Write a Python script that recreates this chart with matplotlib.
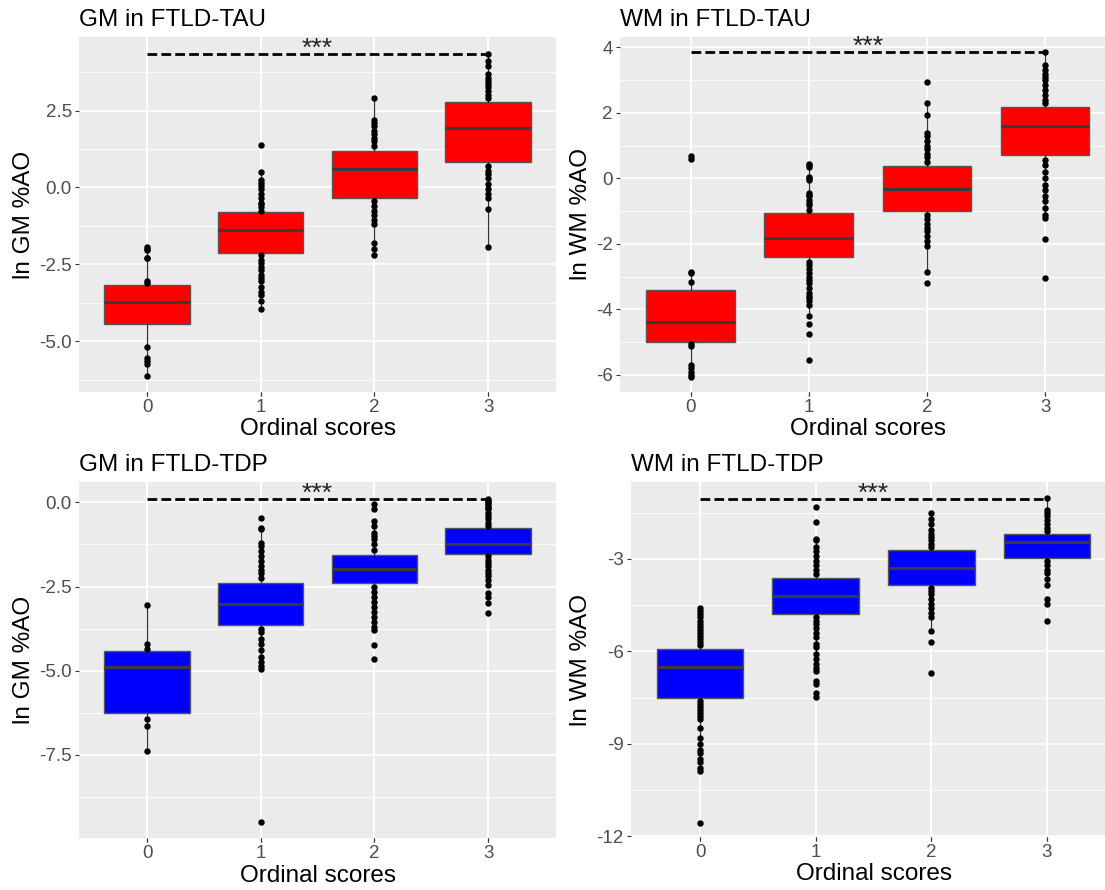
import matplotlib
matplotlib.use("Agg")
import matplotlib.pyplot as plt
from matplotlib.ticker import FixedLocator, FormatStrFormatter

plt.rcParams['font.family'] = ['Liberation Sans', 'DejaVu Sans']
plt.rcParams['axes.unicode_minus'] = False

scores = [0, 1, 2, 3]

# GM in FTLD-TAU
gm_tau_q1 = [-4.43, -2.13, -0.35, 0.83]
gm_tau_med = [-3.74, -1.39, 0.59, 1.92]
gm_tau_q3 = [-3.18, -0.81, 1.17, 2.78]
gm_tau_pts = [
    [-1.95, -2.0, -2.05, -2.3, -2.3, -3.05, -3.1, -5.2, -5.55, -5.65, -5.75, -6.12],
    [1.37, 0.5, 0.25, 0.15, 0.05, -0.05, -0.2, -0.35, -0.5, -0.55, -0.65, -0.75,
     -2.2, -2.35, -2.45, -2.6, -2.7, -2.85, -2.95, -3.05, -3.25, -3.4, -3.5, -3.7, -3.95],
    [2.9, 2.2, 2.1, 2.0, 1.85, 1.75, 1.6, 1.5, 1.35,
     -0.45, -0.6, -0.75, -0.9, -1.05, -1.2, -1.8, -2.0, -2.2],
    [4.35, 4.1, 3.95, 3.7, 3.55, 3.45, 3.35, 3.25, 3.15, 3.0, 2.9,
     0.7, 0.55, 0.45, 0.3, 0.1, -0.05, -0.2, -0.35, -0.7, -1.95],
]
gm_tau_sig = 4.35

# WM in FTLD-TAU
wm_tau_q1 = [-5.0, -2.41, -0.98, 0.71]
wm_tau_med = [-4.38, -1.81, -0.31, 1.59]
wm_tau_q3 = [-3.41, -1.06, 0.39, 2.17]
wm_tau_pts = [
    [0.7, 0.6, -2.85, -2.9, -3.15, -5.05, -5.1, -5.7, -5.8, -5.9, -6.0, -6.05],
    [0.45, 0.4, 0.35, 0.05, 0.0, -0.05, -0.45, -0.5, -0.55, -0.65, -0.75, -0.8, -0.95,
     -2.55, -2.65, -2.75, -2.9, -3.0, -3.1, -3.2, -3.35, -3.5, -3.6, -3.65, -3.75,
     -3.85, -4.2, -4.45, -4.75, -5.53],
    [2.95, 2.3, 1.95, 1.4, 1.3, 1.15, 1.0, 0.9, 0.75, 0.65, 0.5,
     -1.1, -1.25, -1.4, -1.5, -1.6, -1.75, -1.9, -2.05, -2.85, -3.19],
    [3.85, 3.45, 3.3, 3.2, 3.1, 3.0, 2.85, 2.7, 2.55, 2.4, 2.3,
     0.55, 0.4, 0.2, 0.0, -0.2, -0.35, -0.55, -0.7, -0.9, -1.1, -1.2, -1.85, -3.05],
]
wm_tau_sig = 3.85

# GM in FTLD-TDP
gm_tdp_q1 = [-6.26, -3.65, -2.39, -1.53]
gm_tdp_med = [-4.88, -3.01, -1.99, -1.25]
gm_tdp_q3 = [-4.41, -2.39, -1.56, -0.77]
gm_tdp_pts = [
    [-3.04, -4.2, -4.35, -6.45, -6.65, -7.38],
    [-0.45, -0.75, -0.8, -1.2, -1.3, -1.45, -1.6, -1.75, -1.9, -2.0, -2.1, -2.25,
     -3.75, -3.85, -4.05, -4.2, -4.4, -4.6, -4.75, -4.85, -4.95, -9.51],
    [-0.06, -0.2, -0.55, -0.7, -0.9, -1.0, -1.1, -1.25, -1.4,
     -2.5, -2.65, -2.8, -2.95, -3.1, -3.25, -3.4, -3.55, -3.7, -3.8, -4.25, -4.65],
    [0.1, 0.05, 0.0, -0.05, -0.1, -0.15, -0.2, -0.3, -0.4, -0.5, -0.6, -0.7,
     -1.6, -1.7, -1.8, -1.9, -2.0, -2.1, -2.2, -2.3, -2.45, -2.7, -2.8, -3.0, -3.28],
]
gm_tdp_sig = 0.1

# WM in FTLD-TDP
wm_tdp_q1 = [-7.51, -4.79, -3.86, -2.97]
wm_tdp_med = [-6.5, -4.21, -3.3, -2.45]
wm_tdp_q3 = [-5.91, -3.62, -2.72, -2.19]
wm_tdp_pts = [
    [-4.6, -4.7, -4.8, -4.9, -5.0, -5.1, -5.2, -5.3, -5.4, -5.5, -5.6, -5.7, -5.8,
     -7.6, -7.7, -7.8, -7.9, -8.0, -8.1, -8.2, -8.5, -8.8, -9.0, -9.2, -9.3, -9.5,
     -9.6, -9.8, -9.9, -11.56],
    [-1.31, -1.8, -2.35, -2.4, -2.6, -2.75, -2.9, -3.05, -3.2, -3.35, -3.5,
     -4.9, -5.0, -5.1, -5.25, -5.4, -5.55, -5.75, -5.85, -6.1, -6.25, -6.4, -6.55,
     -6.65, -6.95, -7.05, -7.35, -7.48],
    [-1.5, -1.7, -1.85, -2.05, -2.2, -2.3, -2.4, -2.5, -2.6,
     -3.95, -4.05, -4.15, -4.3, -4.45, -4.6, -4.75, -4.9, -5.35, -5.7, -6.7],
    [-1.02, -1.4, -1.5, -1.6, -1.75, -1.85, -2.0, -2.1,
     -3.05, -3.2, -3.35, -3.45, -3.65, -3.85, -4.3, -4.45, -5.03],
]
wm_tdp_sig = -1.05

W, H = 1105, 890


def px_axes(fig, left, right, top, bottom):
    return fig.add_axes([left / W, 1 - bottom / H, (right - left) / W, (bottom - top) / H])


def box_stats(q1, med, q3, pts):
    stats = []
    for a, m, b, p in zip(q1, med, q3, pts):
        iqr = b - a
        hi = [v for v in p if b < v <= b + 1.5 * iqr]
        lo = [v for v in p if a - 1.5 * iqr <= v < a]
        stats.append(dict(q1=a, med=m, q3=b,
                          whishi=max(hi) if hi else b,
                          whislo=min(lo) if lo else a))
    return stats


def draw_panel(ax, title, ylabel, q1, med, q3, pts, color, ylim, yticks, minor, fmt, sig_y):
    ax.set_facecolor('#EBEBEB')
    for s in ax.spines.values():
        s.set_visible(False)
    ax.set_xlim(-0.6, 3.6)
    ax.set_ylim(*ylim)
    ax.yaxis.set_major_locator(FixedLocator(yticks))
    ax.yaxis.set_minor_locator(FixedLocator(minor))
    ax.yaxis.set_major_formatter(FormatStrFormatter(fmt))
    ax.set_xticks(scores)
    ax.set_xticklabels([str(s) for s in scores])
    ax.grid(True, which='major', color='white', lw=1.2, zorder=0)
    ax.grid(True, which='minor', axis='y', color='white', lw=0.6, zorder=0)
    ax.set_axisbelow(True)
    ax.tick_params(which='major', length=3, width=0.8, color='#333333',
                   labelsize=13.5, labelcolor='#4D4D4D', pad=2)
    ax.tick_params(which='minor', length=0)

    ax.bxp(box_stats(q1, med, q3, pts), positions=scores, widths=0.75,
           patch_artist=True, showfliers=False, showcaps=False,
           boxprops=dict(facecolor=color, edgecolor='#555555', lw=1.0),
           medianprops=dict(color='#3A3A3A', lw=2.2),
           whiskerprops=dict(color='#333333', lw=0.9), zorder=2)
    for x, p in zip(scores, pts):
        ax.plot([x] * len(p), p, 'o', color='black', ms=3.6, zorder=3)

    ax.plot([0, 3], [sig_y, sig_y], ls=(0, (3.5, 1.5)), color='black', lw=2, zorder=4)
    ax.annotate('***', xy=(1.5, sig_y), xytext=(0, -5), textcoords='offset points',
                ha='center', va='bottom', fontsize=19, color='#222222')

    ax.set_title(title, loc='left', fontsize=17.5, pad=8)
    ax.set_xlabel('Ordinal scores', fontsize=17.5, labelpad=2)
    ax.set_ylabel(ylabel, fontsize=17.5, labelpad=3)


fig = plt.figure(figsize=(W / 100, H / 100), dpi=100)
fig.patch.set_facecolor('white')

ax1 = px_axes(fig, 78.8, 556.3, 37.3, 391.7)
ax2 = px_axes(fig, 619.6, 1116.0, 37.3, 391.7)
ax3 = px_axes(fig, 78.8, 556.3, 482.3, 838.3)
ax4 = px_axes(fig, 630.6, 1116.4, 482.3, 836.7)

draw_panel(ax1, 'GM in FTLD-TAU', 'ln GM %AO', gm_tau_q1, gm_tau_med, gm_tau_q3, gm_tau_pts,
           '#FF0000', (-6.64, 4.88), [-5.0, -2.5, 0.0, 2.5], [-6.25, -3.75, -1.25, 1.25, 3.75],
           '%.1f', gm_tau_sig)
draw_panel(ax2, 'WM in FTLD-TAU', 'ln WM %AO', wm_tau_q1, wm_tau_med, wm_tau_q3, wm_tau_pts,
           '#FF0000', (-6.51, 4.31), [-6, -4, -2, 0, 2, 4], [-5, -3, -1, 1, 3],
           '%d', wm_tau_sig)
draw_panel(ax3, 'GM in FTLD-TDP', 'ln GM %AO', gm_tdp_q1, gm_tdp_med, gm_tdp_q3, gm_tdp_pts,
           '#0000FF', (-9.99, 0.6), [-7.5, -5.0, -2.5, 0.0], [-8.75, -6.25, -3.75, -1.25],
           '%.1f', gm_tdp_sig)
draw_panel(ax4, 'WM in FTLD-TDP', 'ln WM %AO', wm_tdp_q1, wm_tdp_med, wm_tdp_q3, wm_tdp_pts,
           '#0000FF', (-12.02, -0.51), [-12, -9, -6, -3], [-10.5, -7.5, -4.5, -1.5],
           '%d', wm_tdp_sig)

fig.savefig('out.png', dpi=100, facecolor='white')
